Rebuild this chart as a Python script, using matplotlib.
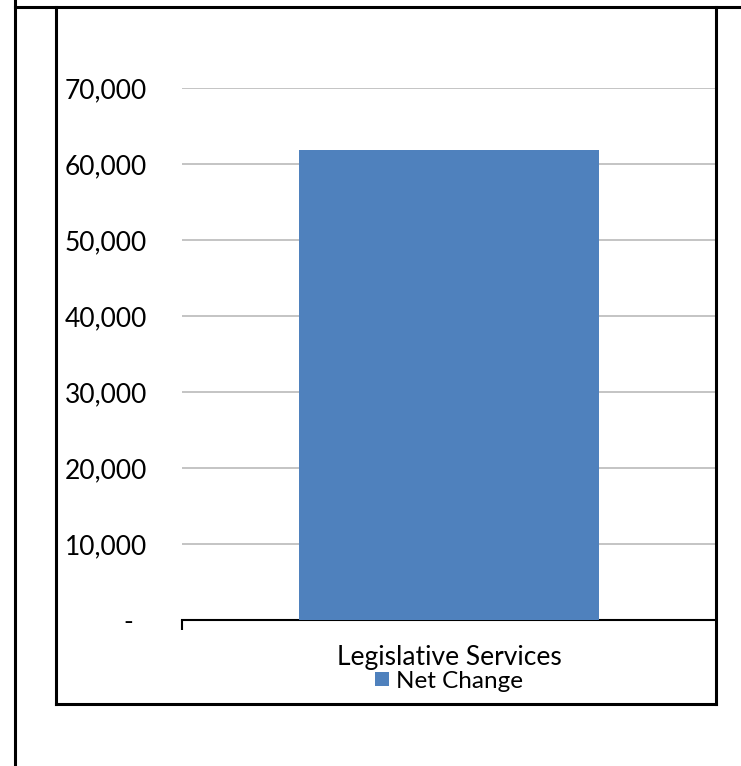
import matplotlib.pyplot as plt
from matplotlib.lines import Line2D
from matplotlib.ticker import FuncFormatter

plt.rcParams['font.family'] = ['Lato', 'DejaVu Sans']

categories = ['Legislative Services']
net_change = [61900]
y_ticks = [0, 10000, 20000, 30000, 40000, 50000, 60000, 70000]

W, H = 741, 766
fig = plt.figure(figsize=(W / 100, H / 100), dpi=100)


def fx(px):
    return px / W


def fy(py):
    return 1 - py / H


# page/table borders around the chart
for xs, ys in [((15, 15), (0, 766)), ((15, 741), (7, 7)),
               ((56, 56), (7, 704)), ((716, 716), (7, 704)), ((56, 716), (704, 704))]:
    fig.add_artist(Line2D([fx(x) for x in xs], [fy(y) for y in ys], color='black', lw=2.2))

ax = fig.add_axes([fx(182), fy(620), fx(716) - fx(182), fy(88) - fy(620)])
bar_color = '#4f81bd'
ax.bar(range(len(categories)), net_change, width=0.56, color=bar_color, label='Net Change', zorder=3)

ax.set_xlim(-0.5, len(categories) - 0.5)
ax.set_ylim(0, 70000)
ax.set_yticks(y_ticks)
ax.yaxis.set_major_formatter(FuncFormatter(lambda v, p: '-  ' if v == 0 else f'{v:,.0f}'))
ax.grid(axis='y', color='#bfbfbf', lw=1.3, zorder=0)
ax.tick_params(axis='y', length=0, pad=25, labelsize=19)

ax.set_xticks(range(len(categories)))
ax.set_xticklabels(categories, fontsize=19)
ax.tick_params(axis='x', which='major', length=0, pad=18)
ax.set_xticks([-0.5], minor=True)
ax.tick_params(axis='x', which='minor', length=7, width=1.5, direction='out', color='black')

for side in ['left', 'right', 'top']:
    ax.spines[side].set_visible(False)
ax.spines['bottom'].set_color('black')
ax.spines['bottom'].set_linewidth(1.5)

ax.legend(loc='center', bbox_to_anchor=(0.5, (fy(681) - fy(620)) / (fy(88) - fy(620))),
          frameon=False, fontsize=17.5, handlelength=0.55, handleheight=0.55, handletextpad=0.3,
          borderpad=0, borderaxespad=0)

fig.savefig('out.png', dpi=100)
